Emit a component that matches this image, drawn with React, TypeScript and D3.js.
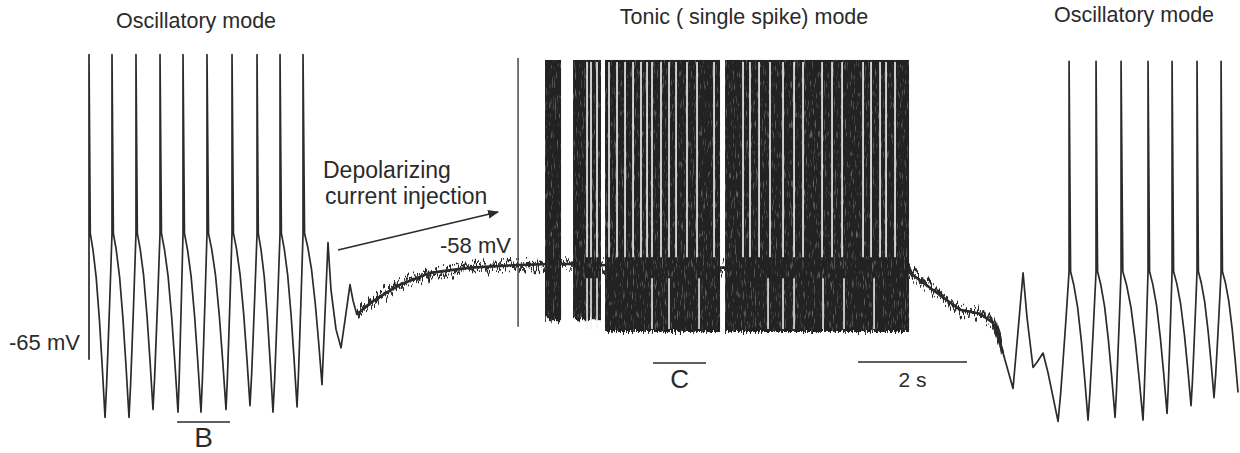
import React from 'react';
import * as d3 from 'd3';

type P = [number, number];

// ---- data: time (s) and membrane potential (mV) ----
const traceStart: P = [0, -65.2];
const leftSpikeTimes = [0, 0.422, 0.862, 1.303, 1.725, 2.165, 2.624, 3.083, 3.505, 3.927];
const leftTroughs: P[] = [[0.294, -69.6], [0.734, -69.6], [1.174, -69.0], [1.633, -69.2], [2.055, -69.2], [2.514, -69.0], [2.954, -68.7], [3.376, -69.2], [3.817, -68.8], [4.275, -67.1]];
const leftPeak = -42.0;
const leftShoulder = -55.6;

const transitionIn: P[] = [[4.385, -56.3], [4.44, -59.9], [4.532, -62.9], [4.624, -64.3], [4.697, -62.2], [4.789, -59.5], [4.844, -60.7], [4.917, -61.8]];
const depolarizedTrace: P[] = [[4.917, -61.8], [5.064, -61.2], [5.339, -60.4], [5.706, -59.5], [6.257, -58.6], [6.991, -58.2], [7.872, -58.0], [8.642, -57.9], [10.11, -58.1], [11.578, -58.2], [13.046, -58.2], [15.046, -58.4], [15.064, -58.6], [15.486, -59.9], [15.982, -61.4], [16.349, -61.7], [16.587, -62.4], [16.771, -64.7]];
const transitionOut: P[] = [[16.771, -64.7], [16.954, -67.4], [17.138, -58.6], [17.211, -62.0], [17.321, -65.8], [17.394, -65.4], [17.505, -64.7], [17.596, -66.2], [17.78, -69.9]];

const rightSpikeTimes = [17.982, 18.477, 18.936, 19.431, 19.872, 20.33, 20.771];
const rightTroughs: P[] = [[18.33, -69.8], [18.826, -69.6], [19.339, -69.8], [19.78, -69.3], [20.22, -68.7], [20.642, -68.1], [21.083, -67.7]];
const rightPeak = -42.5;
const rightShoulder = -58.5;

// tonic firing
const loneSpike = { t: 7.872, peak: -42.25, undershoot: -62.7 };
const tonicPeak = -42.4;
const tonicBaseline = -58.1;
const tonicBands: [number, number, number][] = [[8.367, 8.661, -62.2], [8.881, 9.394, -62.2], [9.468, 11.578, -63.1], [11.67, 15.046, -63.1]];
const upperGapTimes = [9.138, 9.211, 9.321, 9.541, 9.688, 9.835, 9.982, 10.128, 10.239, 10.33, 10.495, 10.642, 10.771, 10.972, 11.156, 11.468, 12.0, 12.128, 12.294, 12.495, 12.734, 12.936, 13.101, 13.45, 13.633, 13.817, 14.202, 14.349, 14.514, 14.624, 14.789];
const lowerGapTimes = [9.138, 9.211, 9.321, 10.33, 10.642, 11.193, 12.459, 12.734, 12.936, 13.468, 13.853, 14.404];

// annotations
const barB: P = [1.616, 2.587];
const barC: P = [10.349, 11.321];
const scaleBar: P = [14.11, 16.11];
const titles = ['Oscillatory mode', 'Tonic ( single spike) mode', 'Oscillatory mode'];

const FONT = '"Liberation Sans", Arial, Helvetica, sans-serif';
const INK = '#2b2b2b';

const riseT: P[] = [[0.23, 0.18], [0.45, 0.4], [0.68, 0.64], [0.85, 0.83], [1, 1]];
const fallT: P[] = [[0.08, 0], [0.25, 0.09], [0.45, 0.24], [0.65, 0.47], [0.83, 0.73], [1, 1]];

function train(spikes: number[], troughs: P[], peak: number, shoulder: number, start: P, startIsTrough: boolean): P[] {
  const pts: P[] = [start];
  let prev = start;
  spikes.forEach((ts, i) => {
    if (startIsTrough || i > 0) {
      for (const [f, g] of riseT) pts.push([prev[0] + f * (ts - prev[0]), prev[1] + g * (shoulder - prev[1])]);
    }
    pts.push([ts, peak]);
    const tr = troughs[i];
    for (const [f, g] of fallT) pts.push([ts + f * (tr[0] - ts), shoulder + g * (tr[1] - shoulder)]);
    prev = tr;
  });
  return pts;
}

export default function App() {
  const x = d3.scaleLinear().domain([0, 21.1]).range([89, 1239]);
  const y = d3.scaleLinear().domain([-65, -58]).range([357, 265]);
  const line = d3.line<P>().x((d) => x(d[0])).y((d) => y(d[1]));

  const leftPts = train(leftSpikeTimes, leftTroughs, leftPeak, leftShoulder, traceStart, false).concat(transitionIn);
  const rightPts = transitionOut.concat(train(rightSpikeTimes, rightTroughs, rightPeak, rightShoulder, transitionOut[transitionOut.length - 1], true).slice(1));

  const yTop = y(tonicPeak);
  const yBase = y(tonicBaseline);
  const depPath = line(depolarizedTrace) ?? '';

  return (
    <svg width={1240} height={453} style={{ position: 'absolute', left: 0, top: 0, background: '#fff' }}>
      <defs>
        <filter id="jitter" filterUnits="userSpaceOnUse" x={0} y={0} width={1240} height={453}>
          <feTurbulence type="fractalNoise" baseFrequency="0.35 0.02" numOctaves={3} seed={4} result="n" />
          <feColorMatrix in="n" type="matrix" values="0 0 0 0 0.5  0 2 0 0 -0.5  0 0 0 0 0  0 0 0 0 1" result="m" />
          <feDisplacementMap in="SourceGraphic" in2="m" scale={16} xChannelSelector="R" yChannelSelector="G" />
        </filter>
        <filter id="jitter2" filterUnits="userSpaceOnUse" x={0} y={0} width={1240} height={453}>
          <feTurbulence type="fractalNoise" baseFrequency="1.1 0.02" numOctaves={2} seed={11} result="n" />
          <feColorMatrix in="n" type="matrix" values="0 0 0 0 0.5  0 2.2 0 0 -0.6  0 0 0 0 0  0 0 0 0 1" result="m" />
          <feDisplacementMap in="SourceGraphic" in2="m" scale={14} xChannelSelector="R" yChannelSelector="G" />
        </filter>
        <filter id="grain" filterUnits="userSpaceOnUse" x={0} y={0} width={1240} height={453}>
          <feTurbulence type="fractalNoise" baseFrequency="0.9 0.1" numOctaves={2} seed={7} result="n" />
          <feColorMatrix in="n" type="matrix" values="0 0 0 0 0.4  0 0 0 0 0.4  0 0 0 0 0.4  0 0 0 1.2 -0.72" result="s" />
          <feComposite in="s" in2="SourceGraphic" operator="atop" />
        </filter>
        <filter id="ragged" filterUnits="userSpaceOnUse" x={0} y={0} width={1240} height={453}>
          <feTurbulence type="fractalNoise" baseFrequency="0.6 0.03" numOctaves={2} seed={9} result="n" />
          <feColorMatrix in="n" type="matrix" values="0 0 0 0 0.5  0 1.5 0 0 -0.25  0 0 0 0 0  0 0 0 0 1" result="m" />
          <feDisplacementMap in="SourceGraphic" in2="m" scale={8} xChannelSelector="R" yChannelSelector="G" />
        </filter>
        <marker id="arrow" viewBox="0 0 10 10" refX={9} refY={5} markerWidth={11} markerHeight={11} markerUnits="userSpaceOnUse" orient="auto">
          <path d="M0,1 L10,5 L0,9 Z" fill={INK} />
        </marker>
      </defs>

      {/* titles */}
      <g fontFamily={FONT} fill={INK} fontSize={21.5} textAnchor="middle">
        <text x={196} y={28}>{titles[0]}</text>
        <text x={744} y={24}>{titles[1]}</text>
        <text x={1134} y={22}>{titles[2]}</text>
      </g>

      {/* oscillatory traces */}
      <path d={line(leftPts) ?? ''} fill="none" stroke={INK} strokeWidth={1.7} strokeLinejoin="round" />
      <path d={line(rightPts) ?? ''} fill="none" stroke={INK} strokeWidth={1.7} strokeLinejoin="round" />

      {/* depolarized noisy trace */}
      <path d={depPath} fill="none" stroke={INK} strokeWidth={3.5} filter="url(#jitter)" />
      <path d={depPath} fill="none" stroke={INK} strokeWidth={1.6} filter="url(#jitter2)" />
      <path d={depPath} fill="none" stroke={INK} strokeWidth={2.6} />

      {/* lone first tonic spike */}
      <line x1={x(loneSpike.t)} x2={x(loneSpike.t)} y1={y(loneSpike.peak)} y2={y(loneSpike.undershoot)} stroke={INK} strokeWidth={1.3} />

      {/* tonic spike bands */}
      <g filter="url(#grain)">
        {tonicBands.map(([a, b, u], i) => (
          <rect key={'ub' + i} x={x(a)} width={x(b) - x(a)} y={yTop} height={y(u) - yTop - 4} fill="#222" />
        ))}
        <g filter="url(#ragged)">
          {tonicBands.map(([a, b, u], i) => (
            <rect key={'lb' + i} x={x(a)} width={x(b) - x(a)} y={y(u) - 14} height={14} fill="#222" />
          ))}
        </g>
      </g>
      {upperGapTimes.map((t, i) => (
        <line key={'ug' + i} x1={x(t)} x2={x(t)} y1={yTop + 2} y2={yBase - 9} stroke="#f2f2f2" strokeWidth={1.6} />
      ))}
      {lowerGapTimes.map((t, i) => (
        <line key={'lg' + i} x1={x(t)} x2={x(t)} y1={yBase + 12} y2={y(-63.1) - 3} stroke="#f2f2f2" strokeWidth={1.5} />
      ))}

      {/* voltage labels */}
      <g fontFamily={FONT} fill={INK} fontSize={22}>
        <text x={9} y={350}>-65 mV</text>
        <text x={440} y={253}>-58 mV</text>
      </g>

      {/* current injection annotation */}
      <g fontFamily={FONT} fill={INK} fontSize={23}>
        <text x={323} y={178}>Depolarizing</text>
        <text x={325} y={204}>current injection</text>
      </g>
      <line x1={338} y1={250} x2={498} y2={212} stroke={INK} strokeWidth={1.6} markerEnd="url(#arrow)" />

      {/* bars */}
      <g stroke={INK} strokeWidth={1.6}>
        <line x1={x(barB[0])} x2={x(barB[1])} y1={422} y2={422} />
        <line x1={x(barC[0])} x2={x(barC[1])} y1={363} y2={363} />
        <line x1={x(scaleBar[0])} x2={x(scaleBar[1])} y1={362} y2={362} />
      </g>
      <g fontFamily={FONT} fill={INK} textAnchor="middle">
        <text x={(x(barB[0]) + x(barB[1])) / 2} y={447} fontSize={28}>B</text>
        <text x={(x(barC[0]) + x(barC[1])) / 2} y={388} fontSize={26}>C</text>
        <text x={(x(scaleBar[0]) + x(scaleBar[1])) / 2} y={387} fontSize={21}>2 s</text>
      </g>
    </svg>
  );
}
